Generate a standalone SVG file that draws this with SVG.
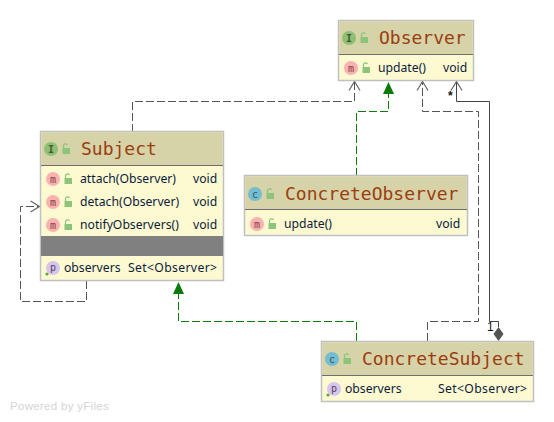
<svg xmlns="http://www.w3.org/2000/svg" width="554" height="422" viewBox="0 0 554 422">
<style>
.box{fill:#fdfad2;stroke:#c0c0c0;stroke-width:1.5}
.hdr{fill:#d6d3a8}
.div{stroke:#6e6e6e;stroke-width:1;fill:none}
.title{font-family:"DejaVu Sans Mono","Liberation Mono",monospace;font-size:18px;fill:#9c3d10}
.t{font-family:"Noto Sans","Open Sans",sans-serif;font-size:12.2px;fill:#0c1a3a}
.g{font-family:"DejaVu Sans Mono",monospace;font-size:10px;text-anchor:middle}
.lock{fill:#8cc47c}
.dash{fill:none;stroke:#555;stroke-width:1;stroke-dasharray:8 3}
.gdash{fill:none;stroke:#0a7a0a;stroke-width:1;stroke-dasharray:8 3}
.solid{fill:none;stroke:#444;stroke-width:1}
.open{fill:none;stroke:#666;stroke-width:1.2}
.lbl{font-family:"Liberation Sans",sans-serif;font-size:12px;fill:#111}
</style>
<defs>
<g id="lk"><path class="lock" d="M-3.500 -1h7.500v6h-7.500z"/><path d="M-2.500 -1v-2.500a2.200 2.200 0 0 1 4 -0.500" fill="none" stroke="#8cc47c" stroke-width="1.200"/></g>
<g id="im"><circle r="7" fill="#fcb1b1"/><text class="g" y="3.500" fill="#7a4040">m</text></g>
<g id="ip"><circle r="7" fill="#d6c5ec"/><text class="g" y="3" fill="#554466">p</text><circle cx="-6" cy="6" r="1.600" fill="#5aa84a"/></g>
<g id="iI"><circle r="7" fill="#8fbf74"/><text class="g" y="3.500" font-weight="bold" fill="#3e5a30">I</text></g>
<g id="iC"><circle r="7" fill="#74bccf"/><text class="g" y="3.500" fill="#2c5a66">c</text></g>
</defs>
<rect width="554" height="422" fill="#fff"/>
<g id="connectors">
<path class="dash" d="M354.500 82V101.500H132.500V131"/>
<path class="open" d="M349 90.500L354.500 81.500L360 90.500"/>
<path class="gdash" d="M356.500 176V111.500H388.500V92"/>
<polygon points="383,94 388.500,82 394,94" fill="#0a7a0a"/>
<path class="dash" d="M427.500 341V321.500H478.500V111.500H422.500V82"/>
<path class="open" d="M417 90.500L422.500 81.500L428 90.500"/>
<path class="solid" d="M489.500 321.500V101.500H456.500V82"/>
<path class="open" d="M451 90.500L456.500 81.500L462 90.500"/>
<path class="solid" d="M489.500 321.500H498.500V327"/>
<polygon points="498.500,327 503.500,334 498.500,341 493.500,334" fill="#555"/>
<path class="gdash" d="M356.500 341V321.500H178.500V293"/>
<polygon points="173,294 178.500,282 184,294" fill="#0a7a0a"/>
<path class="dash" d="M86.500 281V301.500H20.500V206.500H39"/>
<path class="open" d="M30.500 201L39.500 206.500L30.500 212"/>
<text class="lbl" x="448" y="100" font-weight="bold">*</text>
<text class="lbl" x="487" y="331">1</text>
</g>
<g id="Observer">
<rect class="box" x="338.500" y="20.500" width="135" height="60"/>
<rect class="hdr" x="339.300" y="21.300" width="133.400" height="32.700"/>
<path class="div" d="M339 54.500H473"/>
<use href="#iI" x="349" y="38"/><use href="#lk" x="364" y="38"/>
<text class="title" x="379" y="44">Observer</text>
<use href="#im" x="351" y="68"/><use href="#lk" x="366" y="68"/>
<text class="t" x="378" y="72">update()</text><text class="t" x="443" y="72">void</text>
</g>
<g id="Subject">
<rect class="box" x="40.500" y="131.500" width="183" height="149"/>
<rect class="hdr" x="41.300" y="132.300" width="181.400" height="32.700"/>
<path class="div" d="M41 165.500H223"/>
<use href="#iI" x="51" y="149"/><use href="#lk" x="66" y="149"/>
<text class="title" x="81" y="155">Subject</text>
<use href="#im" x="53" y="179"/><use href="#lk" x="68" y="179"/>
<text class="t" x="80" y="183">attach(Observer)</text><text class="t" x="193" y="183">void</text>
<use href="#im" x="53" y="202"/><use href="#lk" x="68" y="202"/>
<text class="t" x="80" y="206">detach(Observer)</text><text class="t" x="193" y="206">void</text>
<use href="#im" x="53" y="225"/><use href="#lk" x="68" y="225"/>
<text class="t" x="80" y="229">notifyObservers()</text><text class="t" x="193" y="229">void</text>
<rect x="41" y="236" width="182" height="20" fill="#808080"/>
<use href="#ip" x="53" y="268"/>
<text class="t" x="64" y="272">observers</text><text class="t" x="128" y="272" textLength="89">Set&lt;Observer&gt;</text>
</g>
<g id="ConcreteObserver">
<rect class="box" x="244.500" y="175.500" width="223" height="60"/>
<rect class="hdr" x="245.300" y="176.300" width="221.400" height="32.700"/>
<path class="div" d="M245 209.500H467"/>
<use href="#iC" x="255" y="194"/><use href="#lk" x="270" y="194"/>
<text class="title" x="285" y="200">ConcreteObserver</text>
<use href="#im" x="257" y="224"/><use href="#lk" x="272" y="224"/>
<text class="t" x="284" y="228">update()</text><text class="t" x="436" y="228">void</text>
</g>
<g id="ConcreteSubject">
<rect class="box" x="321.500" y="341.500" width="212" height="60"/>
<rect class="hdr" x="322.300" y="342.300" width="210.400" height="32.700"/>
<path class="div" d="M322 375.500H533"/>
<use href="#iC" x="332" y="359"/><use href="#lk" x="347" y="359"/>
<text class="title" x="362" y="365">ConcreteSubject</text>
<use href="#ip" x="334" y="389"/>
<text class="t" x="345" y="393">observers</text><text class="t" x="438" y="393" textLength="89">Set&lt;Observer&gt;</text>
</g>
<text x="10" y="410" font-family="'Liberation Sans',sans-serif" font-size="11.500" letter-spacing="0.300" fill="#d4d4d4">Powered by yFiles</text>
</svg>
